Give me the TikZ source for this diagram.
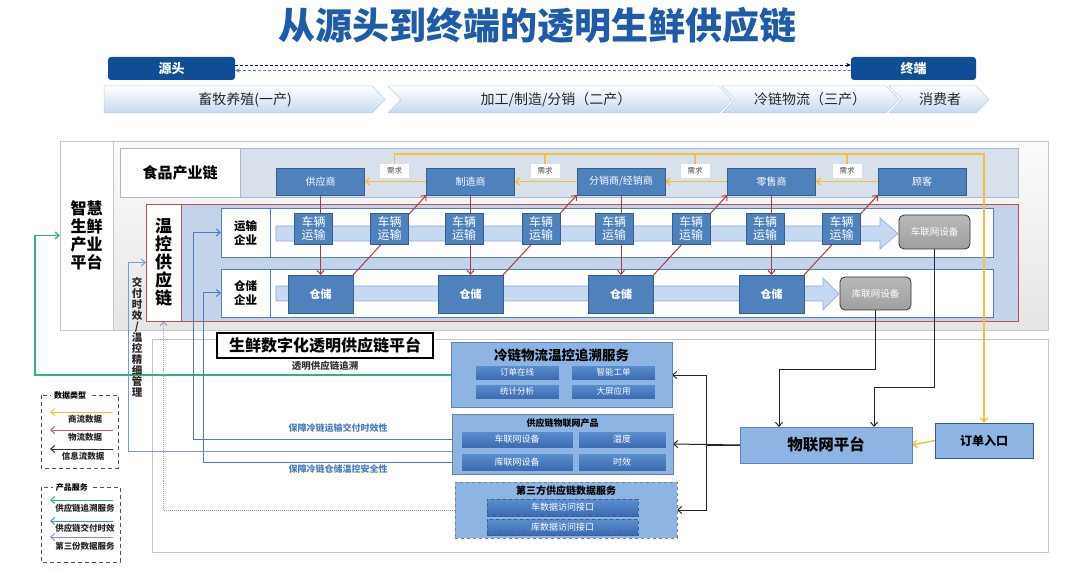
\documentclass[tikz,border=0pt]{standalone}
\usepackage{fontspec}
\setmainfont{Noto Sans CJK SC}
\usetikzlibrary{arrows.meta,calc}
\pgfdeclarelayer{back}
\pgfdeclarelayer{mid}
\pgfsetlayers{back,mid,main}
\definecolor{titleblue}{HTML}{1F5BA8}
\definecolor{hdrblue}{HTML}{0F4D96}
\definecolor{chevblue}{HTML}{C5D9F1}
\definecolor{chevborder}{HTML}{B8CCE4}
\definecolor{foodbg}{HTML}{D8E0EC}
\definecolor{foodborder}{HTML}{A6B9D3}
\definecolor{rowbg}{HTML}{C3D4EA}
\definecolor{redbox}{HTML}{C0504D}
\definecolor{boxblue}{HTML}{4F81BD}
\definecolor{boxborder}{HTML}{385D8A}
\definecolor{ltblue}{HTML}{8EB4E3}
\definecolor{ltborder}{HTML}{5B84BF}
\definecolor{subtop}{HTML}{5B8FD0}
\definecolor{subbot}{HTML}{3B6AAE}
\definecolor{ylw}{HTML}{F2C13A}
\definecolor{redl}{HTML}{B03A3A}
\definecolor{grn}{HTML}{2FB57A}
\definecolor{bline}{HTML}{4A7CC0}
\definecolor{purp}{HTML}{B58BD6}
\definecolor{legendc}{HTML}{44546A}
\newcommand{\myfs}[2]{\fontsize{#1}{#2}\selectfont}
\tikzset{
  every node/.style={inner sep=0pt, outer sep=0pt},
  barb/.style={-{Straight Barb[length=4pt,width=7pt]}},
  hdr/.style={fill=hdrblue, rounded corners=3pt, text=white, font=\myfs{13}{13}\bfseries, minimum height=23},
  chev/.style={top color=white, bottom color=chevblue, draw=chevborder, line width=0.5pt},
  chevtxt/.style={font=\myfs{14}{14}, text=black!85},
  foodbox/.style={fill=boxblue, draw=boxborder, line width=0.8pt, minimum width=88, minimum height=27, text=white, font=\myfs{10}{10}},
  demand/.style={fill=white, minimum width=29, minimum height=14, font=\myfs{7.5}{7.5}, text=black!70},
  veh/.style={fill=boxblue, draw=boxborder, line width=0.6pt, minimum width=38, minimum height=31, text=white, font=\myfs{12}{13}, align=center},
  wh/.style={fill=boxblue, draw=boxborder, line width=0.6pt, minimum width=65, minimum height=38, text=white, font=\myfs{11}{11}\bfseries},
  iotdev/.style={top color=gray!55, bottom color=gray!75, draw=gray!40!black, line width=0.8pt, rounded corners=5pt, text=white, font=\myfs{9.5}{9.5}},
  svc/.style={fill=ltblue, draw=ltborder, line width=1pt},
  sub/.style={top color=subtop, bottom color=subbot, draw=ltblue, line width=0.5pt, text=white, font=\myfs{8.5}{8.5}},
  redarr/.style={redl, line width=1pt, barb},
  ylwarr/.style={ylw, line width=1.4pt, barb},
  blkarr/.style={black!85, line width=1pt, barb},
  bluearr/.style={bline, line width=1pt, barb},
  grnarr/.style={grn, line width=1.3pt, barb},
  legtxt/.style={font=\myfs{8.5}{8.5}\bfseries, text=black!85},
  legbox/.style={legendc, dashed, line width=1pt, dash pattern=on 4pt off 3pt},
  bar/.style={fill=chevblue, draw=chevborder!80!blue, line width=0.6pt}
}
\begin{document}
\begin{tikzpicture}[x=1pt,y=-1pt]
\path[use as bounding box] (0,0) rectangle (1080,572);

% title
\node[font=\myfs{37}{40}\bfseries, text=titleblue] (title) at (537,25) {从源头到终端的透明生鲜供应链};

% header
\node[hdr, minimum width=127] (src) at (171.5,68.5) {源头};
\node[hdr, minimum width=125] (dst) at (913.5,68.5) {终端};
\draw[black!60!blue, densely dashed, line width=0.8pt, -{Stealth[length=5pt,width=4pt]}] ([yshift=3.5pt]src.east) -- ([yshift=3.5pt]dst.west);
\draw[hdrblue!70, densely dashed, line width=0.8pt, -{Stealth[length=5pt,width=4pt]}] ([yshift=-2pt]dst.west) -- ([yshift=-2pt]src.east);

% chevrons
\path[chev] (104,86) -- (372,86) -- (385,99.5) -- (372,113) -- (104,113) -- cycle;
\path[chev] (388,86) -- (719,86) -- (732,99.5) -- (719,113) -- (388,113) -- (401,99.5) -- cycle;
\path[chev] (722,86) -- (886,86) -- (899,99.5) -- (886,113) -- (722,113) -- (735,99.5) -- cycle;
\path[chev] (889,86) -- (976,86) -- (989,99.5) -- (976,113) -- (889,113) -- (902,99.5) -- cycle;
\node[chevtxt] (c1) at (245,99.5) {畜牧养殖(一产)};
\node[chevtxt] (c2) at (556,99.5) {加工/制造/分销（二产）};
\node[chevtxt] (c3) at (810,99.5) {冷链物流（三产）};
\node[chevtxt] (c4) at (940,99.5) {消费者};

% panels
\begin{pgfonlayer}{back}
\fill[white] (0,0) rectangle (1080,572);
\draw[top color=gray!3, bottom color=gray!20, draw=gray!45] (60,141) rectangle (1048,330);
\draw[fill=foodbg, draw=foodborder] (120,148) rectangle (1018,197);
\draw[fill=white, draw=foodborder] (120,148) rectangle (240,197);
\draw[fill=rowbg, draw=redbox] (146,204) rectangle (1018,321);
\draw[fill=white, draw=boxblue, line width=0.8pt] (221,208) rectangle (993,257);
\draw[fill=white, draw=boxblue, line width=0.8pt] (221,269) rectangle (993,317);
\draw[bar] (276,226) -- (880,226) -- (880,218) -- (898,233.5) -- (880,249) -- (880,241) -- (276,241) -- cycle;
\draw[bar] (276,286) -- (823,286) -- (823,278) -- (839,294) -- (823,310) -- (823,301) -- (276,301) -- cycle;
\draw[fill=white, draw=gray!45, line width=0.8pt] (152,339) rectangle (1048,552);
\end{pgfonlayer}

\node[draw=gray!45, fill=white, minimum width=53, minimum height=189, font=\myfs{16}{18}\bfseries, align=center] (plat) at (86.5,235.5) {智慧\\生鲜\\产业\\平台};
\node[font=\myfs{15}{15}\bfseries] (food) at (180,172.5) {食品产业链};
\node[draw=redbox, fill=white, minimum width=35, minimum height=117, font=\myfs{17}{18}\bfseries, align=center] (tc) at (163.5,262.5) {温\\控\\供\\应\\链};
\node[draw=boxblue, line width=0.8pt, fill=white, minimum width=49, minimum height=49, font=\myfs{11.5}{14}\bfseries, align=center] (tlab) at (245.5,232.5) {运输\\企业};
\node[draw=boxblue, line width=0.8pt, fill=white, minimum width=49, minimum height=48, font=\myfs{11.5}{14}\bfseries, align=center] (slab) at (245.5,293) {仓储\\企业};

% food chain
\node[foodbox] (sup) at (320.5,181.5) {供应商};
\node[foodbox] (mfr) at (470.5,181.5) {制造商};
\node[foodbox] (dist) at (621,181.5) {分销商/经销商};
\node[foodbox] (ret) at (771.5,181.5) {零售商};
\node[foodbox] (cust) at (922,181.5) {顾客};
\node[demand] (d1) at (394.5,171) {需求};
\node[demand] (d2) at (545,171) {需求};
\node[demand] (d3) at (695,171) {需求};
\node[demand] (d4) at (847,171) {需求};

% vehicles and warehouses
\foreach \i/\x in {1/313.5,2/389.5,3/464,4/541,5/614,6/691,7/765,8/841.5}
  \node[veh] (v\i) at (\x,228.5) {车辆\\运输};
\foreach \i/\x in {1/320.5,2/470.5,3/621,4/771.5}
  \node[wh] (w\i) at (\x,294) {仓储};
\node[iotdev, minimum width=71, minimum height=34] (cv) at (934.5,232) {车联网设备};
\node[iotdev, minimum width=71, minimum height=33] (sv) at (875.5,293.5) {库联网设备};

% bottom platform
\node[draw=black, line width=1.6pt, fill=white, minimum width=216, minimum height=25, font=\myfs{16}{16}\bfseries] (pltf) at (325,345.5) {生鲜数字化透明供应链平台};
\node[font=\myfs{9.5}{9.5}\bfseries, text=black!80] (trace) at (325,366) {透明供应链追溯};
\node[text=bline, font=\myfs{9}{9}\bfseries] (lbl1) at (338,428) {保障冷链运输交付时效性};
\node[text=bline, font=\myfs{9}{9}\bfseries] (lbl2) at (338,469) {保障冷链仓储温控安全性};
\node[font=\myfs{10.5}{11}\bfseries, align=center, text=black!85] (vtxt) at (137,337) {交\\付\\时\\效\\/\\温\\控\\精\\细\\管\\理};

\node[svc, minimum width=221, minimum height=64] (cold) at (561.5,375) {};
\node[font=\myfs{13.5}{13.5}\bfseries] (coldt) at (561.5,355) {冷链物流温控追溯服务};
\node[sub, minimum width=84, minimum height=15] (co1) at (517,372.5) {订单在线};
\node[sub, minimum width=84, minimum height=15] (co2) at (613.5,372.5) {智能工单};
\node[sub, minimum width=84, minimum height=15] (co3) at (517,391.5) {统计分析};
\node[sub, minimum width=84, minimum height=15] (co4) at (613.5,391.5) {大屏应用};

\node[svc, draw=gray!60!ltborder, minimum width=221, minimum height=60] (prod) at (562.5,444) {};
\node[font=\myfs{9}{9}\bfseries] (prodt) at (562.5,423) {供应链物联网产品};
\node[sub, font=\myfs{9}{9}, minimum width=112, minimum height=17] (p1) at (517,439.5) {车联网设备};
\node[sub, font=\myfs{9}{9}, minimum width=88, minimum height=17] (p2) at (622,439.5) {温度};
\node[sub, font=\myfs{9}{9}, minimum width=112, minimum height=18] (p3) at (517,462) {库联网设备};
\node[sub, font=\myfs{9}{9}, minimum width=88, minimum height=18] (p4) at (622,462) {时效};

\node[svc, draw=gray!70!ltborder, dashed, minimum width=222, minimum height=56] (third) at (566,510) {};
\node[font=\myfs{10}{10}\bfseries] (thirdt) at (566,491) {第三方供应链数据服务};
\node[sub, dashed, draw=boxborder, font=\myfs{9}{9}, minimum width=151, minimum height=17] (t1) at (562.5,507.5) {车数据访问接口};
\node[sub, dashed, draw=boxborder, font=\myfs{9}{9}, minimum width=151, minimum height=16] (t2) at (562.5,527) {库数据访问接口};

\node[svc, minimum width=172, minimum height=36, font=\myfs{15.5}{15.5}\bfseries] (iot) at (826,445) {物联网平台};
\node[svc, draw=boxborder, minimum width=98, minimum height=35, font=\myfs{12}{12}\bfseries] (order) at (984,440.5) {订单入口};

% legends
\draw[legbox] (41,395) rectangle (118,468);
\node[fill=white, inner xsep=3pt, font=\myfs{8}{8}\bfseries] (lg1) at (70,395) {数据类型};
\draw[legbox] (41,487) rectangle (120,562);
\node[fill=white, inner xsep=3pt, font=\myfs{8}{8}\bfseries] (lg2) at (72,487) {产品服务};
\node[legtxt] (lt1) at (85,419) {商流数据};
\node[legtxt] (lt2) at (85,437) {物流数据};
\node[legtxt] (lt3) at (83,456) {信息流数据};
\node[legtxt] (lt4) at (85,508) {供应链追溯服务};
\node[legtxt] (lt5) at (85,528) {供应链交付时效};
\node[legtxt] (lt6) at (85,546) {第三份数据服务};
\foreach \n/\y in {1/412,2/430,3/449,4/500,5/521,6/537}{
  \coordinate (ls\n) at (113,\y);
  \coordinate (le\n) at (50,\y);
}

% connectors
\begin{pgfonlayer}{mid}
\foreach \f/\w in {sup/w1,mfr/w2,dist/w3,ret/w4}
  \draw[redarr] (\f.south) -- (\w.north);
\foreach \w/\f in {w1/mfr,w2/dist,w3/ret,w4/cust}
  \draw[redarr] (\w.north east) -- (\f.south west);
\draw[ylwarr] (mfr.west) -- (sup.east);
\draw[ylwarr] (dist.west) -- (mfr.east);
\draw[ylwarr] (ret.west) -- (dist.east);
\draw[ylwarr] (cust.west) -- (ret.east);
\draw[ylwarr] (d1.north) -- ++(0,-10) -| (order.north);
\foreach \d in {d2,d3,d4}
  \draw[ylw, line width=1.4pt] (\d.north) -- ++(0,-10);
\draw[ylwarr] (order.west) -- (iot.east);
\draw[blkarr] (cv.south) -- ++(0,138) -| ([xshift=48pt]iot.north);
\draw[blkarr] (sv.south) -- ++(0,59.5) -| ([xshift=-47pt]iot.north);
\draw[blkarr] (iot.west) -- (prod.east);
\draw[blkarr] (iot.west) -- ++(-34,0) |- (cold.east);
\draw[blkarr] (iot.west) -- ++(-34,0) |- (third.east);
\draw[grnarr] (cold.west) -- ++(-416,0) |- (plat.west);
\draw[bluearr] (p1.west) -- ++(-268,0) |- (tlab.west);
\draw[bluearr] (p3.west) -- ++(-258,0) |- (slab.west);
\draw[bline!75, line width=1pt, barb] ([yshift=-7pt]prod.west) -- ++(-324,0) |- (tc.west);
\draw[purp, line width=1pt, densely dotted, barb] (third.west) -| (tc.south);
\draw[ylw, line width=1pt, barb] (ls1) -- (le1);
\draw[redl!80, line width=1pt, barb] (ls2) -- (le2);
\draw[black!80, line width=1pt, barb] (ls3) -- (le3);
\draw[grn, line width=1pt, barb] (ls4) -- (le4);
\draw[bline!80!cyan, line width=1pt, barb] (ls5) -- (le5);
\draw[purp!90!blue, line width=1pt, barb] (ls6) -- (le6);
\end{pgfonlayer}
\end{tikzpicture}
\end{document}
